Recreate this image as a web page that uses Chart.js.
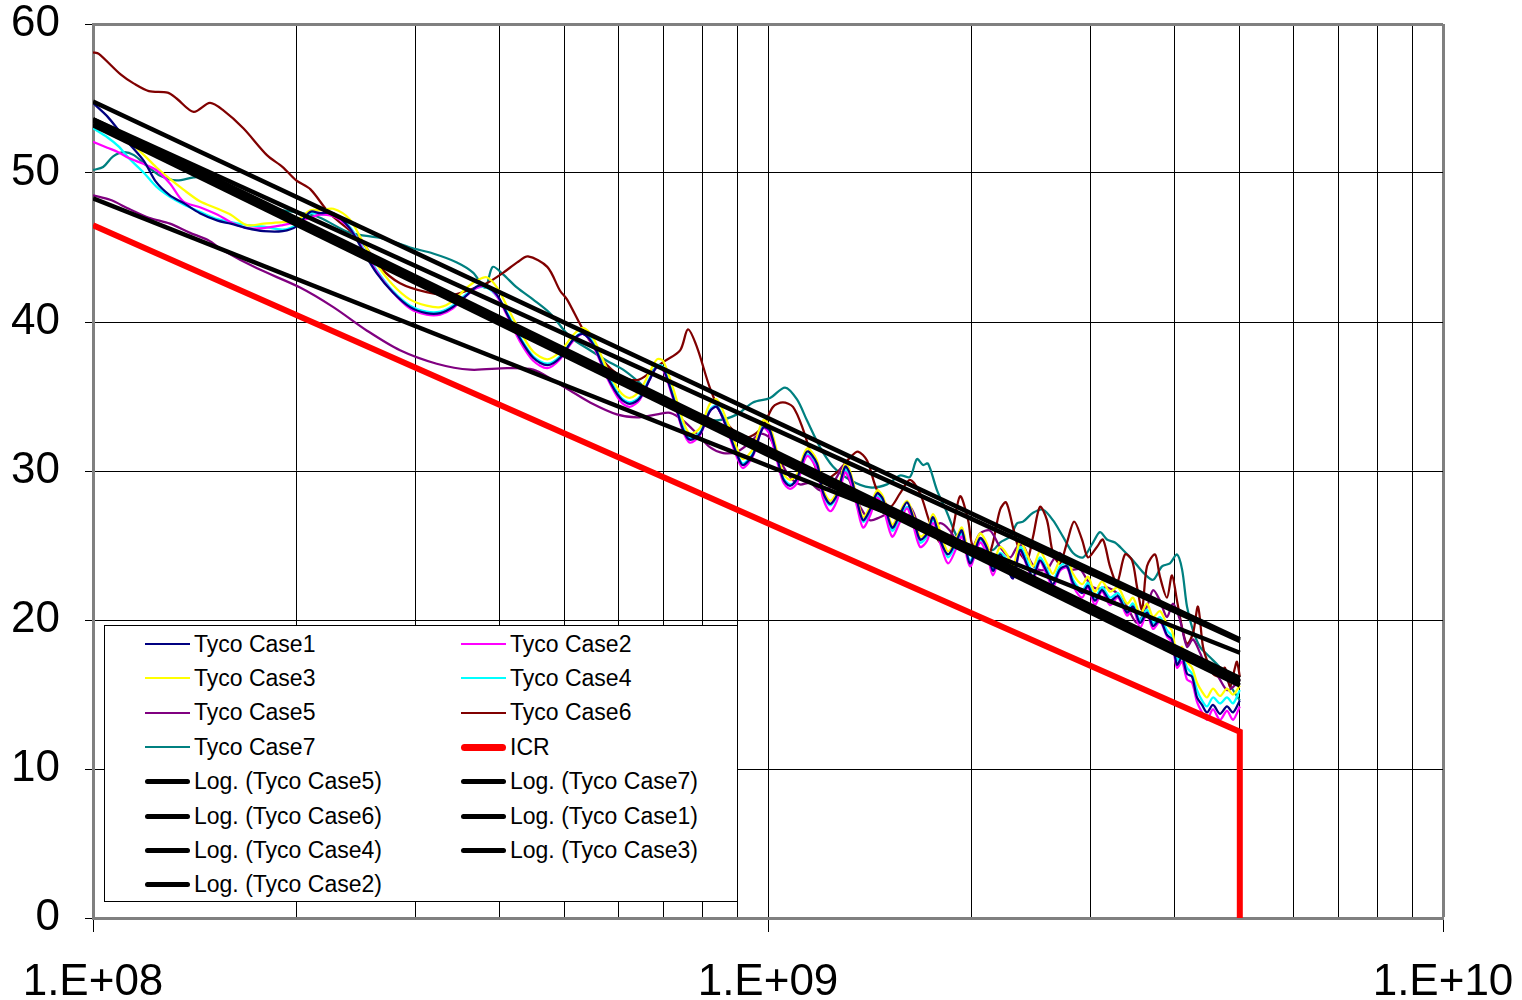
<!DOCTYPE html>
<html><head><meta charset="utf-8">
<script src="https://cdn.jsdelivr.net/npm/chart.js@4.4.1/dist/chart.umd.min.js"></script>
<style>
html,body{margin:0;padding:0;background:#fff;}
#wrap{position:relative;width:1522px;height:1000px;}
#legend{position:absolute;left:104px;top:625px;width:634px;height:277px;box-sizing:border-box;border:1px solid #000;background:#fff;font-family:"Liberation Sans",Arial,sans-serif;font-size:23px;color:#000;}
.item{position:absolute;height:30px;display:flex;align-items:center;white-space:nowrap;}
.sw{display:inline-block;width:45px;margin-right:4px;}
</style></head><body>
<div id="wrap"><canvas id="c" width="1522" height="1000"></canvas><div id="legend"></div></div>
<script>
// ---- data (frequencies in MHz, values in dB) ----
const freqCluster = [100,105,109,113,119,124,130,136,144,153,160,169,179,191,200,210,217,227,240,251,263,278,295,312,327,341,358,371,383,397,411,429,449,471,492,514,532,551,577,604,624,646,669,685,699,723,748,766,793,820,840,869,900,918,950,983,1007,1052,1078,1104,1142,1182,1206,1236,1265,1301,1323,1355,1383,1416,1451,1480,1527,1569,1607,1640,1680,1720,1756,1798,1848,1905,1938,1992,2061,2111,2154,2207,2260,2307,2363,2420,2470,2529,2590,2643,2707,2773,2831,2919,2979,3050,3124,3211,3300,3403,3474,3558,3643,3719,3808,3900,3967,4036,4106,4176,4248,4321,4395,4471,4563,4673,4786,4885,5000];
const case1 = [54.7,53.8,52.9,52.0,50.8,49.4,48.5,48.0,47.3,46.8,46.6,46.3,46.1,46.1,46.4,47.4,47.3,47.3,46.3,44.8,43.3,42.0,41.0,40.6,40.6,41.0,41.8,42.4,42.4,41.8,40.5,38.9,37.6,37.1,37.6,38.8,39.2,38.5,36.4,34.9,34.5,34.9,36.2,37.0,36.9,35.0,32.8,32.1,32.5,34.0,34.3,32.9,31.1,30.4,31.1,32.9,32.7,29.5,29.0,29.5,31.3,30.5,28.6,27.8,28.4,30.3,29.8,28.0,26.7,27.4,28.5,28.1,26.2,27.1,27.9,26.9,25.4,25.8,26.9,25.4,24.4,25.4,26.0,23.8,25.5,24.8,23.3,24.4,23.5,22.8,24.7,23.7,22.9,24.0,23.2,22.4,23.4,23.6,22.5,21.8,22.3,21.3,22.0,21.3,21.6,20.5,20.9,19.8,20.5,19.6,20.0,19.0,18.7,17.0,17.5,16.4,16.2,14.8,14.3,13.8,14.3,13.7,14.2,13.8,14.6];
const case2 = [52.1,51.7,51.4,51.0,50.6,50.2,49.3,48.1,47.7,47.2,46.7,46.3,46.3,46.5,46.7,47.0,47.2,47.1,46.3,44.9,43.4,42.0,40.9,40.5,40.5,40.9,41.8,42.3,42.4,41.7,40.4,38.7,37.4,36.9,37.5,38.7,39.2,38.4,36.3,34.7,34.3,34.8,36.2,37.0,36.8,34.9,32.7,31.9,32.4,34.0,34.3,32.8,30.9,30.2,31.0,32.9,32.4,29.3,28.8,29.2,31.0,30.1,28.2,27.3,28.0,29.9,29.4,27.6,26.2,27.0,28.2,27.6,25.6,26.6,27.5,26.4,24.9,25.3,26.5,25.2,23.8,24.9,25.6,23.6,25.2,24.4,23.0,24.2,23.6,22.8,24.6,23.6,22.7,23.9,23.0,22.2,23.3,23.5,22.3,21.5,22.2,21.0,21.9,21.0,21.5,20.3,20.8,19.5,20.4,19.4,19.9,18.9,18.5,16.8,17.2,16.0,15.8,14.5,13.8,13.3,14.0,13.3,13.9,13.3,14.2];
const case3 = [53.6,53.0,52.6,52.1,51.2,50.4,49.6,48.9,48.1,47.6,47.2,46.5,46.6,46.7,46.8,47.5,47.5,47.6,46.9,45.4,43.9,42.5,41.5,41.1,41.0,41.4,42.3,42.8,43.0,42.3,41.0,39.4,38.0,37.5,38.0,39.1,39.6,38.9,36.9,35.3,34.9,35.4,36.7,37.5,37.4,35.6,33.4,32.5,32.9,34.5,34.8,33.4,31.5,30.8,31.5,33.4,33.0,29.9,29.4,29.8,31.5,30.7,28.8,28.0,28.6,30.5,30.0,28.2,26.9,27.6,28.7,28.3,26.4,27.3,28.0,27.1,25.6,26.0,27.1,26.0,24.6,25.6,26.2,24.4,25.8,25.1,23.8,24.9,24.4,23.6,25.3,24.4,23.6,24.6,23.8,23.1,24.0,24.2,23.1,22.4,22.9,21.9,22.6,21.9,22.2,21.1,21.5,20.4,21.1,20.2,20.6,19.7,19.3,17.7,18.2,17.2,16.8,15.8,15.2,14.8,15.4,14.9,15.4,15.0,15.6];
const case4 = [53.0,52.4,51.8,51.0,50.0,49.1,48.4,47.9,47.4,46.9,46.7,46.5,46.4,46.2,46.5,47.3,47.2,47.2,46.4,45.0,43.5,42.1,41.1,40.7,40.7,41.1,41.9,42.3,42.3,41.7,40.6,39.0,37.7,37.2,37.7,38.8,39.3,38.6,36.6,35.0,34.6,35.0,36.3,37.1,37.0,35.2,33.0,32.2,32.6,34.1,34.4,33.0,31.2,30.5,31.2,33.0,32.6,29.6,29.1,29.4,31.1,30.3,28.5,27.7,28.3,30.1,29.6,27.9,26.6,27.2,28.3,27.9,26.0,26.9,27.6,26.7,25.2,25.6,26.7,25.6,24.2,25.2,25.8,24.0,25.4,24.7,23.4,24.5,24.0,23.2,24.9,24.0,23.2,24.2,23.4,22.7,23.6,23.8,22.7,22.0,22.5,21.5,22.2,21.5,21.8,20.7,21.1,20.0,20.7,19.8,20.2,19.3,18.9,17.3,17.8,16.8,16.4,15.3,14.6,14.2,14.8,14.4,14.8,14.4,15.3];

const freq5 = [100,106,113,121,130,139,148,156,175,203,227,255,285,323,362,411,449,480,509,545,597,640,685,716,748,785,820,858,900,940,973,1007,1042,1078,1115,1154,1194,1236,1265,1292,1337,1369,1416,1465,1516,1569,1623,1680,1738,1798,1860,1925,1992,2061,2133,2207,2284,2339,2387,2444,2503,2590,2643,2707,2802,2899,2969,3030,3103,3178,3289,3403,3522,3643,3719,3808,3900,3981,4077,4176,4262,4365,4471,4563,4673,4786,4885,5000];
const case5 = [48.5,48.2,47.6,47.0,46.6,46.0,45.5,44.8,43.6,42.3,41.0,39.4,38.1,37.2,36.8,36.9,36.8,36.1,35.4,34.6,33.8,33.6,33.8,33.9,33.4,32.5,31.6,31.2,31.3,31.9,32.5,32.2,30.7,29.6,29.1,29.2,28.7,28.9,29.6,30.3,28.7,27.6,26.7,26.9,27.2,27.2,27.6,26.2,25.8,26.5,26.0,24.9,24.6,25.8,26.0,24.9,24.2,24.9,25.0,24.0,23.4,23.4,24.0,24.5,23.4,23.4,22.7,22.2,22.1,22.2,21.8,20.9,19.8,20.9,22.0,21.3,20.2,21.1,20.0,18.2,18.7,17.8,16.8,16.8,16.0,15.3,15.5,16.0];

const freq6 = [100,102,110,115,121,129,133,141,149,156,167,181,191,200,210,224,249,266,285,312,338,358,383,405,425,441,471,492,504,532,570,604,640,669,699,741,761,785,820,858,900,940,983,1017,1052,1089,1127,1166,1206,1265,1323,1359,1402,1451,1516,1569,1623,1680,1738,1798,1860,1925,1979,2013,2111,2154,2207,2253,2307,2363,2420,2470,2529,2590,2643,2707,2773,2841,2919,2979,3071,3135,3211,3289,3380,3462,3522,3582,3643,3744,3808,3900,3967,4036,4106,4176,4262,4335,4410,4486,4563,4673,4753,4835,4918,4952,5000];
const case6 = [58.1,58.0,56.6,56.0,55.5,55.4,55.0,54.1,54.7,54.2,53.0,51.2,50.4,49.5,48.9,47.3,45.5,43.7,42.6,42.0,41.8,42.1,42.6,43.3,44.0,44.4,43.7,42.1,41.5,39.5,37.4,36.4,36.1,36.6,37.3,38.1,39.5,38.3,35.6,33.6,32.5,32.3,33.0,34.3,34.6,34.3,32.8,30.7,29.4,29.9,30.9,31.3,30.7,28.7,27.6,28.5,29.4,28.5,26.5,25.2,25.4,28.3,26.7,24.9,24.2,25.2,27.4,27.9,26.2,24.5,24.0,25.6,27.6,26.7,24.5,23.8,25.2,26.6,25.4,24.2,24.9,25.4,23.6,22.5,24.4,24.0,22.2,20.7,23.6,24.4,22.9,21.5,23.0,21.3,19.5,18.4,19.1,20.9,18.2,17.1,16.4,16.2,16.8,15.5,16.8,17.2,16.2];

const freq7 = [100,103.5,107,111,115,120,126,133,141,148,160,175,191,205,217,240,269,295,319,346,366,381,391,405,425,449,475,509,545,577,610,646,669,709,748,793,840,900,950,1007,1060,1104,1142,1194,1248,1323,1416,1501,1569,1623,1662,1697,1726,1780,1842,1905,1972,2061,2154,2207,2284,2339,2387,2470,2555,2643,2735,2831,2929,3030,3103,3178,3266,3357,3474,3594,3719,3834,3940,4036,4106,4176,4262,4365,4517,4673,4786,4885,5000];
const case7 = [50.2,50.4,51.1,51.4,51.2,50.5,49.8,49.5,49.7,49.7,48.7,48.0,47.5,47.3,47.0,46.0,45.6,45.0,44.6,44.0,43.3,42.3,43.7,43.2,42.3,41.5,40.6,39.0,38.1,37.4,36.8,35.9,35.2,34.6,34.1,33.6,33.4,33.8,34.6,34.9,35.6,34.8,33.4,31.6,30.3,29.4,28.9,29.1,29.7,29.6,30.8,30.4,30.5,28.7,27.2,25.6,24.9,24.8,24.7,25.2,25.6,26.5,26.6,27.2,27.4,26.7,25.6,24.5,24.2,25.2,25.9,25.4,25.2,24.7,24.0,23.2,22.7,23.6,23.8,24.4,23.4,20.9,19.3,18.2,17.5,16.8,16.0,15.3,14.6];

const icrFreq = [100, 5000, 5000];
const icrVals = [46.5, 12.5, 0];

const trendFreq = [100, 5000];
const trendCase5 = [48.3, 17.8];
const trendCase7 = [53.6, 18.6];
const trendCase6 = [54.8, 18.7];
const trendCase1 = [53.5, 15.8];
const trendCase4 = [53.3, 15.9];
const trendCase3 = [53.6, 16.1];
const trendCase2 = [53.2, 15.6];

const xMajorValues = [1e8, 1e9, 1e10];
const xMajorLabels = ['1.E+08', '1.E+09', '1.E+10'];
const yTickValues = [0, 10, 20, 30, 40, 50, 60];

// ---- build ----
const pts = (f, v) => f.map((m, i) => ({x: m * 1e6, y: v[i]}));
const series = [
  {label:'Tyco Case1', color:'#000080', w:2.25, f:freqCluster, v:case1, kind:'data'},
  {label:'Tyco Case2', color:'#FF00FF', w:2.25, f:freqCluster, v:case2, kind:'data'},
  {label:'Tyco Case3', color:'#FFFF00', w:2.25, f:freqCluster, v:case3, kind:'data'},
  {label:'Tyco Case4', color:'#00FFFF', w:2.25, f:freqCluster, v:case4, kind:'data'},
  {label:'Tyco Case5', color:'#800080', w:2.25, f:freq5, v:case5, kind:'data'},
  {label:'Tyco Case6', color:'#800000', w:2.25, f:freq6, v:case6, kind:'data'},
  {label:'Tyco Case7', color:'#008080', w:2.25, f:freq7, v:case7, kind:'data'},
  {label:'ICR', color:'#FF0000', w:6, f:icrFreq, v:icrVals, kind:'icr'},
  {label:'Log. (Tyco Case5)', color:'#000000', w:4.5, f:trendFreq, v:trendCase5, kind:'trend'},
  {label:'Log. (Tyco Case7)', color:'#000000', w:4.5, f:trendFreq, v:trendCase7, kind:'trend'},
  {label:'Log. (Tyco Case6)', color:'#000000', w:4.5, f:trendFreq, v:trendCase6, kind:'trend'},
  {label:'Log. (Tyco Case1)', color:'#000000', w:4.5, f:trendFreq, v:trendCase1, kind:'trend'},
  {label:'Log. (Tyco Case4)', color:'#000000', w:4.5, f:trendFreq, v:trendCase4, kind:'trend'},
  {label:'Log. (Tyco Case3)', color:'#000000', w:4.5, f:trendFreq, v:trendCase3, kind:'trend'},
  {label:'Log. (Tyco Case2)', color:'#000000', w:4.5, f:trendFreq, v:trendCase2, kind:'trend'}
];

const datasets = series.map((s, i) => ({
  label: s.label,
  data: pts(s.f, s.v),
  borderColor: s.color,
  backgroundColor: s.color,
  borderWidth: s.w,
  pointRadius: 0,
  tension: s.kind === 'data' ? 0.3 : 0,
  borderJoinStyle: 'miter',
  fill: false,
  order: s.kind === 'trend' ? 0 : (s.kind === 'icr' ? 1 : 2 + i)
}));

const isPow10 = v => Math.abs(Math.log10(v) - Math.round(Math.log10(v))) < 1e-9;
const FONT = '"Liberation Sans", Arial, sans-serif';
Chart.defaults.font.family = FONT;

new Chart(document.getElementById('c'), {
  type: 'line',
  data: { datasets },
  options: {
    responsive: false,
    animation: false,
    devicePixelRatio: 1,
    layout: { padding: { left: 0, right: 79, top: 24, bottom: 0 } },
    plugins: { legend: { display: false }, tooltip: { enabled: false } },
    scales: {
      x: {
        type: 'logarithmic', min: 1e8, max: 1e10,
        afterBuildTicks: (s) => {
          const t = [];
          for (let d = 8; d < 10; d++) for (let k = 1; k < 10; k++) t.push({value: k * Math.pow(10, d)});
          t.push({value: 1e10});
          s.ticks = t;
        },
        afterFit: (s) => { s.height = 82; s.paddingLeft = 0; s.paddingRight = 0; s.paddingTop = 0; s.paddingBottom = 0; },
        ticks: {
          autoSkip: false, maxRotation: 0, minRotation: 0, padding: 29, color: '#000',
          font: { size: 44, lineHeight: 1 },
          callback: (v) => { const i = xMajorValues.findIndex(m => Math.abs(m - v) / m < 1e-9); return i >= 0 ? xMajorLabels[i] : ''; }
        },
        grid: {
          color: (ctx) => (ctx.tick && ctx.tick.value >= 1e10 * 0.999) ? '#808080' : '#000',
          lineWidth: (ctx) => (ctx.tick && ctx.tick.value >= 1e10 * 0.999) ? 3 : 1,
          tickLength: 14,
          tickWidth: 1,
          tickColor: (ctx) => (ctx.tick && isPow10(ctx.tick.value)) ? '#000' : 'rgba(0,0,0,0)'
        },
        border: { color: '#808080', width: 3 }
      },
      y: {
        min: 0, max: 60,
        afterBuildTicks: (s) => { s.ticks = yTickValues.map(v => ({value: v})); },
        afterFit: (s) => { s.width = 93; s.paddingTop = 0; s.paddingBottom = 0; s.paddingLeft = 0; s.paddingRight = 0; },
        ticks: { padding: 25, color: '#000', font: { size: 44, lineHeight: 1 } },
        grid: {
          color: (ctx) => (ctx.tick && ctx.tick.value === 60) ? '#808080' : '#000',
          lineWidth: (ctx) => (ctx.tick && ctx.tick.value === 60) ? 3 : 1,
          tickLength: 8, tickWidth: 1, tickColor: '#000'
        },
        border: { color: '#808080', width: 3 }
      }
    }
  }
});

// ---- legend (HTML) ----
const leg = document.getElementById('legend');
series.forEach((s, k) => {
  const row = Math.floor(k / 2), col = k % 2;
  const cy = 18 + row * 34.4;
  const it = document.createElement('div');
  it.className = 'item';
  it.style.left = (col === 0 ? 40 : 356) + 'px';
  it.style.top = (cy - 15) + 'px';
  const sw = document.createElement('span');
  sw.className = 'sw';
  const h = s.kind === 'icr' ? 7 : (s.kind === 'trend' ? 5 : 2);
  sw.style.height = h + 'px';
  sw.style.background = s.color;
  if (s.kind !== 'data') sw.style.borderRadius = (h / 2) + 'px';
  const tx = document.createElement('span');
  tx.textContent = s.label;
  it.appendChild(sw); it.appendChild(tx);
  leg.appendChild(it);
});
</script>
</body></html>
